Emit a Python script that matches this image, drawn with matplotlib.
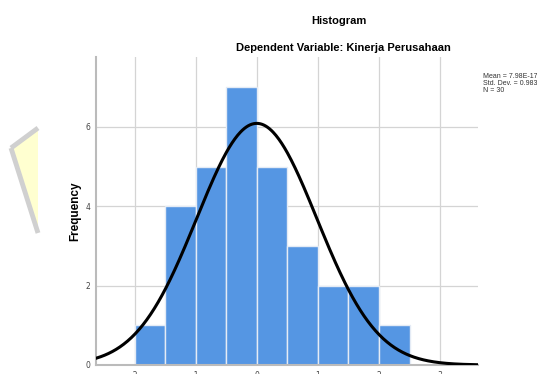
import numpy as np
import matplotlib.pyplot as plt
from matplotlib.patches import Polygon
from matplotlib.lines import Line2D

# histogram of standardized residuals
bin_edges = [-2.0, -1.5, -1.0, -0.5, 0.0, 0.5, 1.0, 1.5, 2.0, 2.5]
counts = [1, 4, 5, 7, 5, 3, 2, 2, 1]
mean = 7.98e-17
std = 0.983
n = 30
x_ticks = [-2, -1, 0, 1, 2, 3]
x_labels = ["-2", "-1", "0", "1", "2", "3"]
y_ticks = [0, 2, 4, 6]

font = ["Liberation Sans", "DejaVu Sans"]

fig = plt.figure(figsize=(5.37, 3.74), dpi=100)


def fpt(x, y):
    return (x / 537, 1 - y / 374)


# faded watermark at the left edge (cut off at its right side)
wm = Polygon([fpt(11, 148), fpt(38, 128), fpt(38, 233)], closed=True,
             transform=fig.transFigure, facecolor="#ffffd0", edgecolor="none")
fig.patches.append(wm)
for a, b in [((38, 128), (11, 148)), ((11, 148), (38, 233))]:
    (x0, y0), (x1, y1) = fpt(*a), fpt(*b)
    fig.lines.append(Line2D([x0, x1], [y0, y1], transform=fig.transFigure,
                            color="#d0d0d0", linewidth=3.5, solid_capstyle="butt"))

ax = fig.add_axes([96 / 537, (374 - 365) / 374, (478 - 96) / 537, (365 - 57) / 374])

widths = np.diff(bin_edges)
ax.bar(bin_edges[:-1], counts, width=widths, align="edge", color="#5596e3",
       edgecolor="#e4ebf5", linewidth=1.0, zorder=2)

xmin, xmax = -2.63, 3.62
xs = np.linspace(xmin, xmax, 400)
bw = 0.5
ys = n * bw / (std * np.sqrt(2 * np.pi)) * np.exp(-0.5 * ((xs - mean) / std) ** 2)
ax.plot(xs, ys, color="black", linewidth=2.2, zorder=3)

ax.set_xlim(xmin, xmax)
ax.set_ylim(0, 7.76)
ax.set_xticks(x_ticks)
ax.set_xticklabels(x_labels)
ax.set_yticks(y_ticks)
ax.grid(True, color="#d4d4d4", linewidth=0.9, zorder=0)
ax.set_axisbelow(True)
ax.tick_params(length=0, labelsize=5.5, labelcolor="#444444", pad=4)
for side in ["top", "right"]:
    ax.spines[side].set_visible(False)
for side in ["left", "bottom"]:
    ax.spines[side].set_color("#bbbbbb")
    ax.spines[side].set_linewidth(1.5)

ax.set_ylabel("Frequency", family=font, fontweight="bold", fontsize=8.5, labelpad=0)
ax.yaxis.set_label_coords(-(96 - 81) / (478 - 96), 0.5)

fig.text(339 / 537, 1 - 21 / 374, "Histogram", ha="center", va="center",
         family=font, fontweight="bold", fontsize=8)
fig.text(343 / 537, 1 - 48 / 374, "Dependent Variable: Kinerja Perusahaan",
         ha="center", va="center", family=font, fontweight="bold", fontsize=8)

fig.text(483 / 537, 1 - 73 / 374, "Mean = 7.98E-17\nStd. Dev. = 0.983\nN = 30",
         ha="left", va="top", family=font, fontsize=5.0, color="#333333",
         linespacing=0.95)

fig.savefig("out.png", dpi=100)
